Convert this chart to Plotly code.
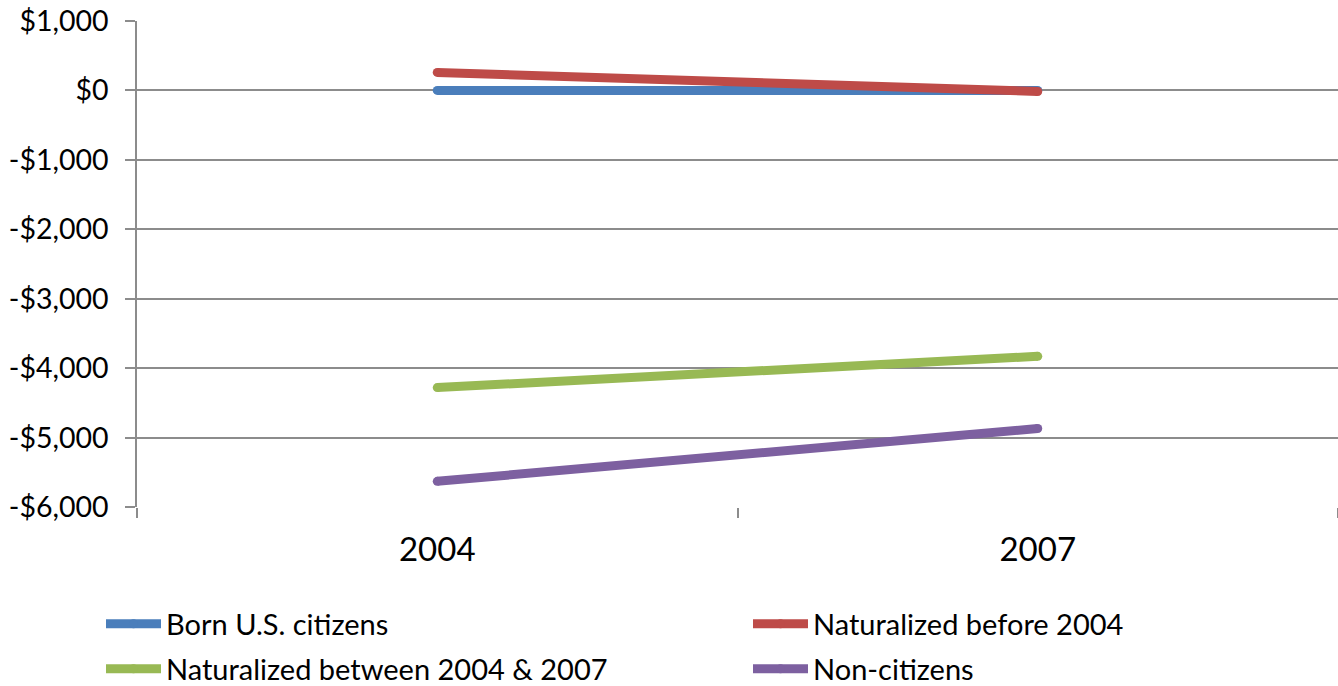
import plotly.graph_objects as go

# Survey years on the category axis
years = ["2004", "2007"]

# Change in value (dollars) by citizenship group
born_us = [0, 0]
naturalized_before_2004 = [260, -15]
naturalized_2004_2007 = [-4280, -3830]
non_citizens = [-5630, -4870]

series_names = [
    "Born U.S. citizens",
    "Naturalized before 2004",
    "Naturalized between 2004 & 2007",
    "Non-citizens",
]

y_tick_values = [1000, 0, -1000, -2000, -3000, -4000, -5000, -6000]
y_tick_labels = ["$1,000", "$0", "-$1,000", "-$2,000", "-$3,000", "-$4,000", "-$5,000", "-$6,000"]

FONT = "Lato"
colors = ["#4A7EBB", "#BE4B48", "#98B954", "#7D60A0"]
series_values = [born_us, naturalized_before_2004, naturalized_2004_2007, non_citizens]
legend_ids = ["legend", "legend2", "legend3", "legend4"]

fig = go.Figure()
for name, vals, col, lg in zip(series_names, series_values, colors, legend_ids):
    fig.add_trace(go.Scatter(
        x=years, y=vals, name=name, mode="lines+markers",
        line=dict(color=col, width=9),
        marker=dict(color=col, size=9),
        legend=lg, hoverinfo="skip",
    ))

W, H = 1338, 686
ml, mr, mt, mb = 137, 0, 21, 179

legend_common = dict(
    orientation="h", xanchor="left", yanchor="middle",
    xref="container", yref="container",
    font=dict(family=FONT, size=29, color="#000000"),
    itemwidth=55, bgcolor="rgba(0,0,0,0)", borderwidth=0,
    itemclick=False, itemdoubleclick=False,
)

# two-column legend below the plot, one legend box per series
layout_legends = {}
positions = [(101, 624), (748, 624), (101, 669), (748, 669)]
for lg, (lx, ly) in zip(legend_ids, positions):
    layout_legends[lg] = dict(legend_common, x=lx / W, y=1 - ly / H)

fig.update_layout(
    width=W, height=H,
    margin=dict(l=ml, r=mr, t=mt, b=mb, pad=0, autoexpand=False),
    paper_bgcolor="#FFFFFF", plot_bgcolor="#FFFFFF",
    showlegend=True,
    font=dict(family=FONT, color="#000000"),
    xaxis=dict(
        type="category", range=[-0.5, 1.5], tickson="boundaries",
        showgrid=False, zeroline=False,
        ticks="outside", ticklen=10, tickwidth=1.5, tickcolor="#8C8C8C",
        showline=False,
        tickfont=dict(family=FONT, size=33, color="#000000"),
        ticklabelstandoff=20,
    ),
    yaxis=dict(
        range=[-6000, 1000], tickvals=y_tick_values, ticktext=y_tick_labels,
        showgrid=True, gridcolor="#8C8C8C", gridwidth=1.5,
        zeroline=False,
        showline=True, linecolor="#8C8C8C", linewidth=1.5,
        ticks="outside", ticklen=10, tickwidth=1.5, tickcolor="#8C8C8C",
        tickfont=dict(family=FONT, size=28.5, color="#000000"),
        ticklabelstandoff=11,
    ),
    **layout_legends,
)

fig.write_html("out.html")
